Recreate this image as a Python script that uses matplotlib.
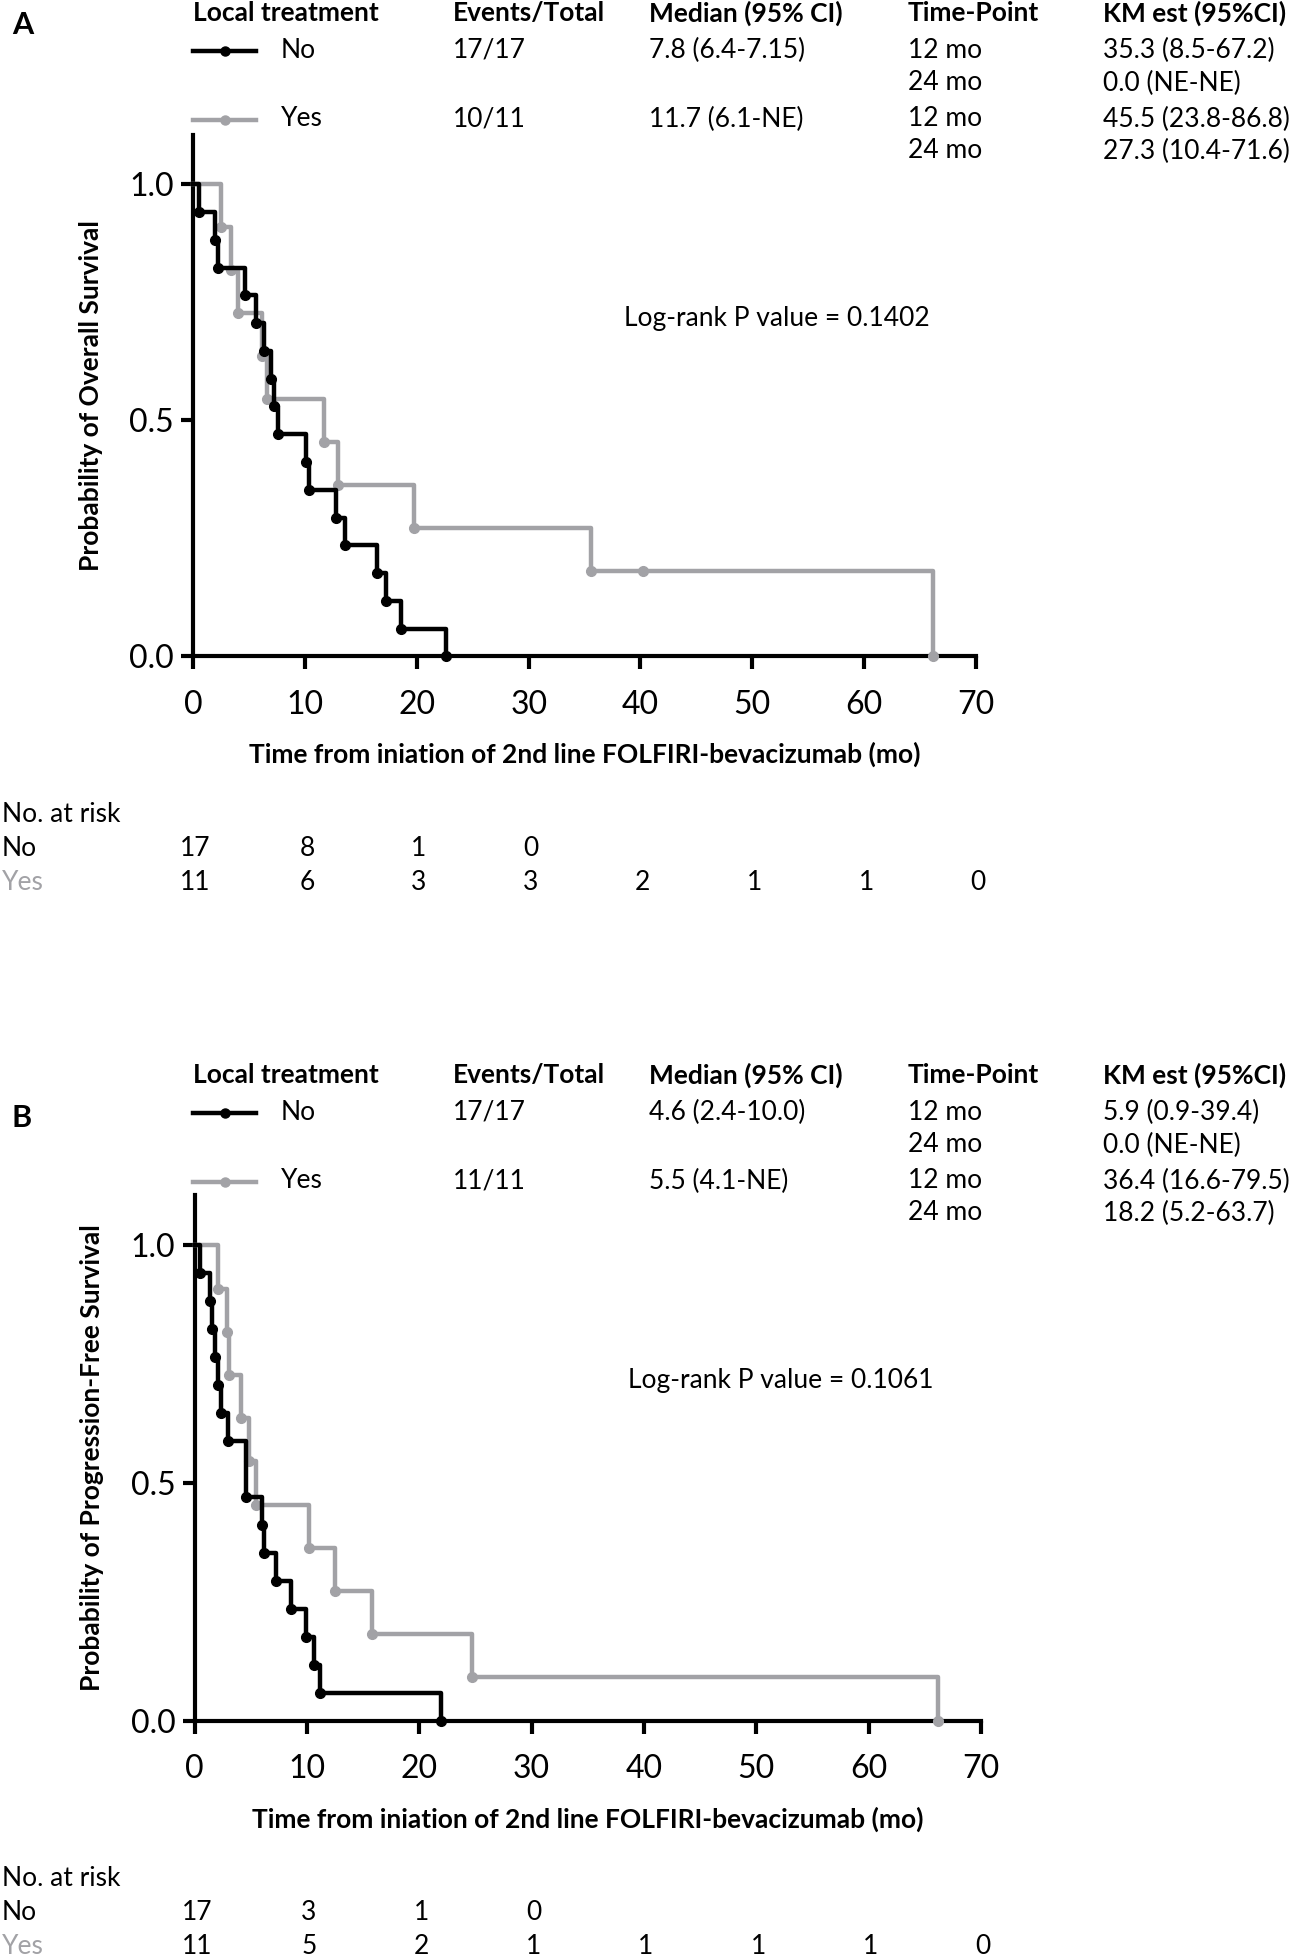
import numpy as np
import matplotlib
matplotlib.use("Agg")
import matplotlib.pyplot as plt

plt.rcParams['font.family'] = ['Lato', 'DejaVu Sans']

W, H = 1299, 1957
BLACK = '#000000'
GRAY = '#a2a2a6'

# ---------------- data ----------------
# Panel A: overall survival (months)
os_no_events = [0.5, 1.9, 2.2, 4.6, 5.6, 6.3, 6.9, 7.2, 7.6, 10.1, 10.3, 12.8, 13.6, 16.4, 17.2, 18.6, 22.6]
os_no_censored = []
os_yes_events = [2.5, 3.4, 4.0, 6.1, 6.6, 11.7, 12.9, 19.7, 35.6, 66.2]
os_yes_censored = [40.2]

# Panel B: progression-free survival (months)
pfs_no_events = [0.5, 1.35, 1.55, 1.85, 2.1, 2.3, 2.96, 4.6, 4.6, 6.0, 6.2, 7.2, 8.6, 9.9, 10.6, 11.2, 21.9]
pfs_no_censored = []
pfs_yes_events = [2.1, 2.9, 3.05, 4.1, 4.85, 5.45, 10.2, 12.5, 15.8, 24.7, 66.2]
pfs_yes_censored = []

groups = ['No', 'Yes']
risk_times = [0, 10, 20, 30, 40, 50, 60, 70]
os_risk_no = [17, 8, 1, 0]
os_risk_yes = [11, 6, 3, 3, 2, 1, 1, 0]
pfs_risk_no = [17, 3, 1, 0]
pfs_risk_yes = [11, 5, 2, 1, 1, 1, 1, 0]

header_cols = ['Local treatment', 'Events/Total', 'Median (95% CI)', 'Time-Point', 'KM est (95%CI)']
os_events_total = ['17/17', '10/11']
os_median = ['7.8 (6.4-7.15)', '11.7 (6.1-NE)']
pfs_events_total = ['17/17', '11/11']
pfs_median = ['4.6 (2.4-10.0)', '5.5 (4.1-NE)']
timepoints = ['12 mo', '24 mo']
os_km = [['35.3 (8.5-67.2)', '0.0 (NE-NE)'], ['45.5 (23.8-86.8)', '27.3 (10.4-71.6)']]
pfs_km = [['5.9 (0.9-39.4)', '0.0 (NE-NE)'], ['36.4 (16.6-79.5)', '18.2 (5.2-63.7)']]

os_p = 'Log-rank P value = 0.1402'
pfs_p = 'Log-rank P value = 0.1061'
xlabel = 'Time from iniation of 2nd line FOLFIRI-bevacizumab (mo)'
os_ylabel = 'Probability of Overall Survival'
pfs_ylabel = 'Probability of Progression-Free Survival'


def km(events, censored):
    times = sorted(set(events) | set(censored))
    n = len(events) + len(censored)
    s = 1.0
    xs, ys = [0.0], [1.0]
    ev_pts, cen_pts = [], []
    for t in times:
        d = events.count(t)
        c = censored.count(t)
        if d:
            s = s * (n - d) / n
            xs.append(t); ys.append(s)
            ev_pts.append((t, s))
        if c:
            cen_pts.append((t, s))
        n -= d + c
    return xs, ys, ev_pts + cen_pts


fig = plt.figure(figsize=(W / 100, H / 100), dpi=100)


def ftext(x, y, s, **kw):
    fig.text(x / W, 1 - y / H, s, **kw)


FS = 19


def panel(letter, top, letter_y, axbox, evt, med, kms, series, ylabel, ptext, ppos, risks, risk_y):
    # header
    hx = [193, 453, 649, 908, 1103]
    ftext(12, letter_y, letter, fontsize=22, fontweight='bold', va='center')
    for x, s in zip(hx, header_cols):
        ftext(x, top, s, fontsize=FS, fontweight='bold', va='center')
    rows = [top + 37, top + 70, top + 106, top + 138]
    for gi, (col) in enumerate([BLACK, GRAY]):
        ry = rows[gi * 2]
        # legend sample line
        y = 1 - (ry + 1) / H
        fig.add_artist(plt.Line2D([193 / W, 256 / W], [y, y], color=col, lw=3.2,
                                  marker=None, transform=fig.transFigure))
        fig.add_artist(plt.Line2D([224.5 / W], [y], color=col, marker='o', ms=6.5,
                                  transform=fig.transFigure))
        ftext(281, ry, groups[gi], fontsize=FS, va='center')
        ftext(453, ry, evt[gi], fontsize=FS, va='center')
        ftext(649, ry, med[gi], fontsize=FS, va='center')
        for k in range(2):
            ftext(908, rows[gi * 2 + k], timepoints[k], fontsize=FS, va='center')
            ftext(1103, rows[gi * 2 + k], kms[gi][k], fontsize=FS, va='center')

    l, r, b, t = axbox
    ax = fig.add_axes([l / W, 1 - b / H, (r - l) / W, (b - t) / H])
    for (ev, ce), col in zip(series[::-1], [GRAY, BLACK]):
        xs, ys, pts = km(ev, ce)
        ax.step(xs, ys, where='post', color=col, lw=3.2, clip_on=False, zorder=3 if col == BLACK else 2)
        px = [p[0] for p in pts]
        py = [p[1] for p in pts]
        ax.plot(px, py, 'o', color=col, ms=7, clip_on=False, zorder=3 if col == BLACK else 2)
    ax.set_xlim(0, 70)
    ax.set_ylim(0, 1.105)
    ax.set_xticks(range(0, 71, 10))
    ax.set_yticks([0, 0.5, 1.0])
    ax.set_yticklabels(['0.0', '0.5', '1.0'])
    for sp in ['top', 'right']:
        ax.spines[sp].set_visible(False)
    for sp in ['left', 'bottom']:
        ax.spines[sp].set_linewidth(3.0)
        ax.spines[sp].set_zorder(1)
    ax.tick_params(width=3.0, length=9, labelsize=23, direction='out', pad=5)
    ax.tick_params(axis='x', pad=15)
    ax.set_xlabel(xlabel, fontsize=FS, fontweight='bold', labelpad=16)
    ax.set_ylabel(ylabel, fontsize=FS, fontweight='bold', labelpad=19)
    ax.text(ppos[0], ppos[1], ptext, fontsize=FS, ha='center', va='center')

    # number at risk
    ftext(2, risk_y[0], 'No. at risk', fontsize=FS, va='center')
    for gi, (vals, col) in enumerate(zip(risks, [BLACK, GRAY])):
        ftext(2, risk_y[gi + 1], groups[gi], fontsize=FS, va='center', color=col)
        for tt, v in zip(risk_times, vals):
            xp = l + (r - l) * tt / 70
            ftext(xp + 2, risk_y[gi + 1], str(v), fontsize=FS, va='center', ha='center', color=BLACK)


panel('A', 13, 25, (193.4, 975.8, 656.4, 134.8), os_events_total, os_median, os_km,
      [(os_no_events, os_no_censored), (os_yes_events, os_yes_censored)],
      os_ylabel, os_p, (52.2, 0.715), [os_risk_no, os_risk_yes], [815, 849, 883])
panel('B', 1075, 1118, (194.7, 980.8, 1720.7, 1195.4), pfs_events_total, pfs_median, pfs_km,
      [(pfs_no_events, pfs_no_censored), (pfs_yes_events, pfs_yes_censored)],
      pfs_ylabel, pfs_p, (52.2, 0.715), [pfs_risk_no, pfs_risk_yes], [1879, 1913, 1946])

fig.savefig('out.png', dpi=100)
